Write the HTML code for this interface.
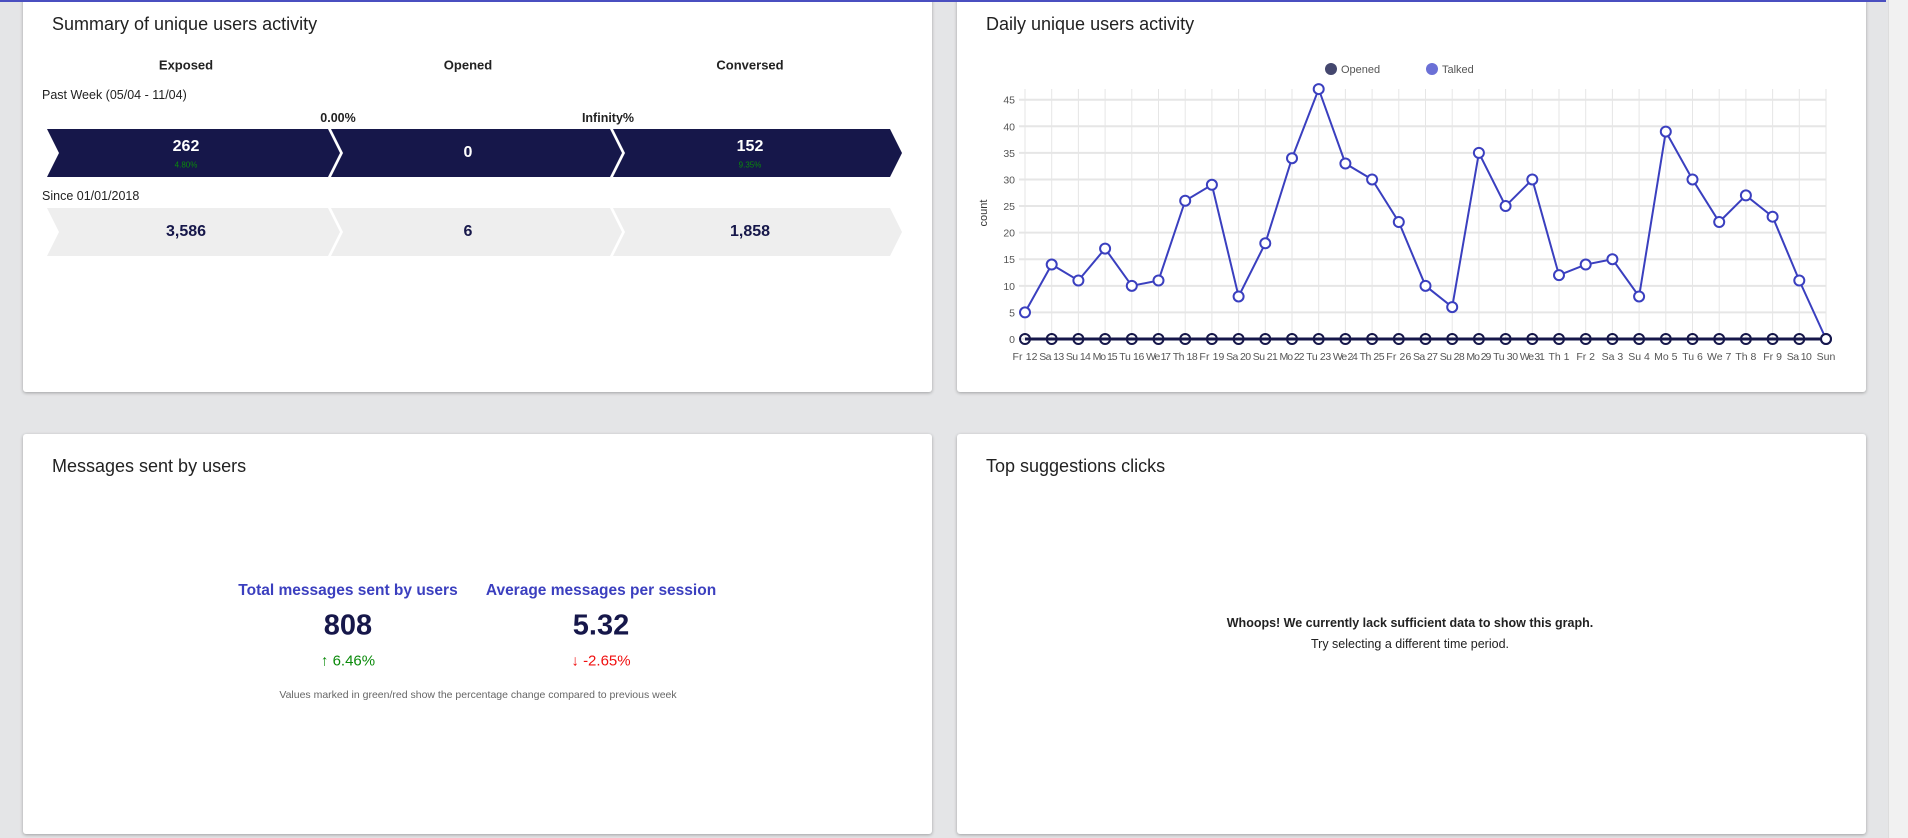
<!DOCTYPE html>
<html><head><meta charset="utf-8">
<style>
*{box-sizing:border-box;margin:0;padding:0}
body{width:1908px;height:838px;background:#e4e5e7;font-family:"Liberation Sans",sans-serif;position:relative;overflow:hidden;color:#222}
.topbar{position:absolute;left:0;top:0;width:1886px;height:2px;background:#4a4fc0;z-index:5}
.card{position:absolute;background:#fff;border-radius:3px;box-shadow:0 1px 3px rgba(0,0,0,.3)}
.title{position:absolute;font-size:18px;color:#222}
.abs{position:absolute}
.c{transform:translate(-50%,-50%);white-space:nowrap;text-align:center}
.scroll{position:absolute;left:1888px;top:0;width:20px;height:838px;background:#f1f1f1;border-left:1px solid #ddd}
</style></head><body>
<div class="topbar"></div>

<div class="card" style="left:23px;top:-4px;width:909px;height:396px"></div>
<div class="title" style="left:52px;top:14px">Summary of unique users activity</div>
<div class="abs c" style="left:186px;top:65px;font-weight:bold;font-size:13px">Exposed</div>
<div class="abs c" style="left:468px;top:65px;font-weight:bold;font-size:13px">Opened</div>
<div class="abs c" style="left:750px;top:65px;font-weight:bold;font-size:13px">Conversed</div>
<div class="abs" style="left:42px;top:88px;font-size:12.5px">Past Week (05/04 - 11/04)</div>
<div class="abs c" style="left:338px;top:118px;font-weight:bold;font-size:12.5px">0.00%</div>
<div class="abs c" style="left:608px;top:118px;font-weight:bold;font-size:12.5px">Infinity%</div>
<svg class="abs" style="left:0;top:0" width="954" height="270">
<g fill="#16174a">
<polygon points="47,129 328,129 340,153 328,177 47,177 59,153"/>
<polygon points="331,129 610,129 622,153 610,177 331,177 343,153"/>
<polygon points="613,129 890,129 902,153 890,177 613,177 625,153"/>
</g>
<g fill="#eeeeee">
<polygon points="47,208 328,208 340,232 328,256 47,256 59,232"/>
<polygon points="331,208 610,208 622,232 610,256 331,256 343,232"/>
<polygon points="613,208 890,208 902,232 890,256 613,256 625,232"/>
</g>
</svg>
<div class="abs c" style="left:186px;top:147px;color:#fff;font-weight:bold;font-size:16px">262</div>
<div class="abs c" style="left:186px;top:165px;color:#0a8a0a;font-size:8px">4.80%</div>
<div class="abs c" style="left:468px;top:153px;color:#fff;font-weight:bold;font-size:16px">0</div>
<div class="abs c" style="left:750px;top:147px;color:#fff;font-weight:bold;font-size:16px">152</div>
<div class="abs c" style="left:750px;top:165px;color:#0a8a0a;font-size:8px">9.35%</div>
<div class="abs" style="left:42px;top:189px;font-size:12.5px">Since 01/01/2018</div>
<div class="abs c" style="left:186px;top:232px;color:#16174a;font-weight:bold;font-size:16px">3,586</div>
<div class="abs c" style="left:468px;top:232px;color:#16174a;font-weight:bold;font-size:16px">6</div>
<div class="abs c" style="left:750px;top:232px;color:#16174a;font-weight:bold;font-size:16px">1,858</div>

<div class="card" style="left:957px;top:-4px;width:909px;height:396px"></div>
<div class="title" style="left:986px;top:14px">Daily unique users activity</div>
<svg id="chart" class="abs" style="left:957px;top:0" width="909" height="392"></svg>

<div class="card" style="left:23px;top:434px;width:909px;height:400px"></div>
<div class="title" style="left:52px;top:456px">Messages sent by users</div>
<div class="abs c" style="left:348px;top:591px;color:#3b3fbf;font-weight:bold;font-size:15.5px">Total messages sent by users</div>
<div class="abs c" style="left:601px;top:591px;color:#3b3fbf;font-weight:bold;font-size:15.5px">Average messages per session</div>
<div class="abs c" style="left:348px;top:626px;color:#16174a;font-weight:bold;font-size:29px">808</div>
<div class="abs c" style="left:601px;top:626px;color:#16174a;font-weight:bold;font-size:29px">5.32</div>
<div class="abs c" style="left:348px;top:661px;color:#0a8a0a;font-size:15px">↑ 6.46%</div>
<div class="abs c" style="left:601px;top:661px;color:#f01010;font-size:15px">↓ -2.65%</div>
<div class="abs c" style="left:478px;top:695px;color:#666;font-size:10.5px">Values marked in green/red show the percentage change compared to previous week</div>

<div class="card" style="left:957px;top:434px;width:909px;height:400px"></div>
<div class="title" style="left:986px;top:456px">Top suggestions clicks</div>
<div class="abs c" style="left:1410px;top:623px;font-weight:bold;font-size:12.5px">Whoops! We currently lack sufficient data to show this graph.</div>
<div class="abs c" style="left:1410px;top:644px;font-size:12.5px">Try selecting a different time period.</div>

<div class="scroll"></div>

<script>
const labels=["Fr 12","Sa 13","Su 14","Mo 15","Tu 16","We 17","Th 18","Fr 19","Sa 20","Su 21","Mo 22","Tu 23","We 24","Th 25","Fr 26","Sa 27","Su 28","Mo 29","Tu 30","We 31","Th 1","Fr 2","Sa 3","Su 4","Mo 5","Tu 6","We 7","Th 8","Fr 9","Sa 10","Sun"];
const talked=[5,14,11,17,10,11,26,29,8,18,34,47,33,30,22,10,6,35,25,30,12,14,15,8,39,30,22,27,23,11,0];
const opened=[0,0,0,0,0,0,0,0,0,0,0,0,0,0,0,0,0,0,0,0,0,0,0,0,0,0,0,0,0,0,0];
const yTicks=[0,5,10,15,20,25,30,35,40,45];
const NS="http://www.w3.org/2000/svg";
const svg=document.getElementById('chart');
const OX=957;
const x0=1025-OX,x1=1826-OX,yb=339,yt=89;
const X=i=>x0+i*(x1-x0)/(labels.length-1);
const Y=v=>yb-v*(yb-99.7)/45;
function el(t,a){const e=document.createElementNS(NS,t);for(const k in a)e.setAttribute(k,a[k]);svg.appendChild(e);return e;}
yTicks.forEach(v=>{
 const g=el('line',{x1:x0-6,x2:x1,y1:Y(v),y2:Y(v),stroke:'#e6e6e6','stroke-width':2});
 
 
 const t=el('text',{x:x0-10,y:Y(v)+4,'text-anchor':'end','font-size':10.5,fill:'#555','font-family':'Liberation Sans'});
 t.textContent=v;
 
 
});
labels.forEach((l,i)=>{
 const g=el('line',{x1:X(i),x2:X(i),y1:yt,y2:yb,stroke:'#e6e6e6','stroke-width':1});
 
 
 const t=el('text',{x:X(i),y:360,'text-anchor':'middle','font-size':10.5,fill:'#555','font-family':'Liberation Sans','textLength':l.length>4?25:'' });
 if(l.length<=4)t.removeAttribute('textLength');
 t.textContent=l;
 
 
});
const yl=el('text',{x:0,y:0,transform:'translate('+(987-OX)+',213) rotate(-90)','text-anchor':'middle','font-size':11,fill:'#333','font-family':'Liberation Sans'});
yl.textContent='count';


const tl=el('polyline',{points:talked.map((v,i)=>X(i)+','+Y(v)).join(' '),fill:'none',stroke:'#3a3fbf','stroke-width':2});


const ol=el('polyline',{points:opened.map((v,i)=>X(i)+','+Y(v)).join(' '),fill:'none',stroke:'#16174a','stroke-width':3});


talked.forEach((v,i)=>{
 const c=el('circle',{cx:X(i),cy:Y(v),r:5,fill:'#fff',stroke:'#3a3fbf','stroke-width':2});
 
 
});
opened.forEach((v,i)=>{
 const c=el('circle',{cx:X(i),cy:Y(v),r:5,fill:'none',stroke:'#16174a','stroke-width':2});
 
 
});
const d1=el('circle',{cx:1331-OX,cy:69,r:6,fill:'#44476e'});


const t1=el('text',{x:1341-OX,y:73,'font-size':11,fill:'#555','font-family':'Liberation Sans'});t1.textContent='Opened';


const d2=el('circle',{cx:1432-OX,cy:69,r:6,fill:'#6b70d6'});


const t2=el('text',{x:1442-OX,y:73,'font-size':11,fill:'#555','font-family':'Liberation Sans'});t2.textContent='Talked';


</script>
</body></html>
